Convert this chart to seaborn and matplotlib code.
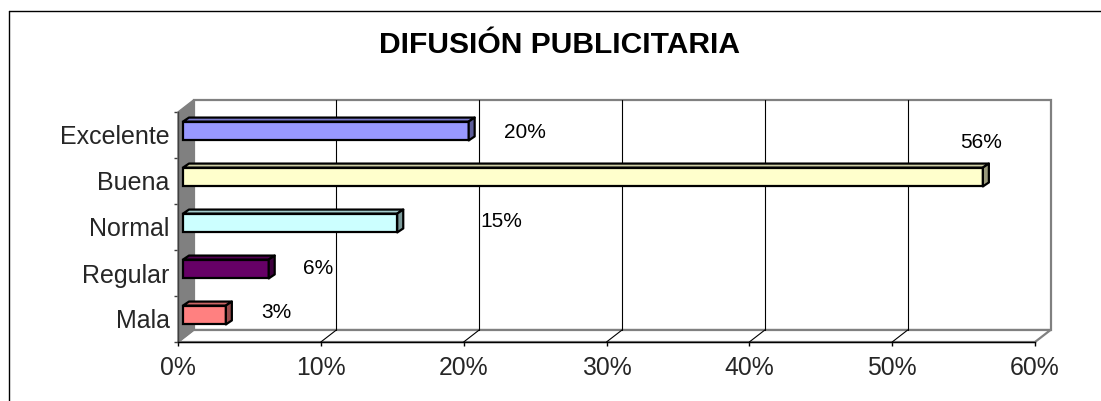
import numpy as np
import pandas as pd
import matplotlib
matplotlib.use("Agg")
import matplotlib.pyplot as plt
import seaborn as sns
from matplotlib.patches import Polygon, Rectangle
from matplotlib.lines import Line2D
from matplotlib.transforms import IdentityTransform, ScaledTranslation
import matplotlib.colors as mcolors

# ---------------- data ----------------
title = "DIFUSIÓN PUBLICITARIA"
categories = ["Excelente", "Buena", "Normal", "Regular", "Mala"]
values = [20, 56, 15, 6, 3]
value_labels = ["20%", "56%", "15%", "6%", "3%"]
x_ticks = [0, 10, 20, 30, 40, 50, 60]
x_tick_labels = ["0%", "10%", "20%", "30%", "40%", "50%", "60%"]
bar_colors = ["#9999FF", "#FFFFCC", "#CCFFFF", "#660066", "#FF8080"]

# ---------------- layout (pixels) ----------------
W, H, DPI = 1101, 401, 100
AX_L, AX_R, AX_T, AX_B = 178, 1035, 112, 342     # front plane of the 3D box
WALL_D = (15.5, 12.0)      # depth of the box (display px, y up)
BAR_F = (5.0, 4.0)         # bar front-face offset
BAR_B = (11.0, 8.0)        # bar back-face offset
# label centre offsets from the bar end on the front plane (px, image y down)
label_offsets = [(61, -2), (3, -38), (109, -5), (54, -5), (56, -7)]

sns.set_theme(style="white")
plt.rcParams["font.family"] = ["Liberation Sans", "DejaVu Sans"]

fig = plt.figure(figsize=(W / DPI, H / DPI), dpi=DPI)
fig.patch.set_facecolor("white")

# outer chart frame (cut by the image on right / bottom)
fig.add_artist(Line2D([8.5 / W, 1.0], [1 - 10.5 / H, 1 - 10.5 / H], color="black", lw=1.0))
fig.add_artist(Line2D([8.5 / W, 8.5 / W], [0.0, 1 - 10.5 / H], color="black", lw=1.0))

ax = fig.add_axes([AX_L / W, (H - AX_B) / H, (AX_R - AX_L) / W, (AX_B - AX_T) / H])
ax.patch.set_visible(False)

df = pd.DataFrame({"categoria": categories, "valor": values})
sns.barplot(data=df, x="valor", y="categoria", hue="categoria", palette=bar_colors,
            orient="h", width=0.41, saturation=1, edgecolor="black", linewidth=1.6,
            legend=False, ax=ax, zorder=3)

ax.set_xlim(x_ticks[0], x_ticks[-1])
ax.set_ylim(len(categories) - 0.5, -0.5)

# ---------- 3D box (walls, floor, gridlines) ----------
idt = IdentityTransform()
(x0, y0), (x1, y1) = ax.transAxes.transform([(0, 0), (1, 1)])
dx, dy = WALL_D
gray = "#808080"
ax.add_patch(Polygon([(x0 + dx, y0 + dy), (x1 + dx, y0 + dy), (x1 + dx, y1 + dy), (x0 + dx, y1 + dy)],
                     closed=True, facecolor="white", edgecolor=gray, lw=1.6,
                     transform=idt, clip_on=False, zorder=0.5))
ax.add_patch(Polygon([(x0, y0), (x1, y0), (x1 + dx, y0 + dy), (x0 + dx, y0 + dy)],
                     closed=True, facecolor="white", edgecolor=gray, lw=1.6,
                     transform=idt, clip_on=False, zorder=0.6))
ax.add_patch(Polygon([(x0, y0), (x0, y1), (x0 + dx, y1 + dy), (x0 + dx, y0 + dy)],
                     closed=True, facecolor=gray, edgecolor=gray, lw=1.0,
                     transform=idt, clip_on=False, zorder=0.7))
for t in x_ticks[1:-1]:
    xd = ax.transData.transform((t, 0))[0]
    ax.add_line(Line2D([xd + dx, xd + dx], [y0 + dy, y1 + dy], color="black", lw=0.8,
                       transform=idt, clip_on=False, zorder=0.65))
    ax.add_line(Line2D([xd, xd + dx], [y0, y0 + dy], color="black", lw=0.8,
                       transform=idt, clip_on=False, zorder=0.65))

# ---------- bars: shift fronts, add top and side faces ----------
shift = ScaledTranslation(BAR_F[0] / DPI, BAR_F[1] / DPI, fig.dpi_scale_trans)
bar_patches = [p for p in ax.patches if isinstance(p, Rectangle) and p.get_width() > 0 and p.get_zorder() >= 3]
for p, c in zip(bar_patches, bar_colors):
    corners = ax.transData.transform([(p.get_x(), p.get_y()),
                                      (p.get_x() + p.get_width(), p.get_y() + p.get_height())])
    L, R = corners[:, 0].min(), corners[:, 0].max()
    B, T = corners[:, 1].min(), corners[:, 1].max()
    p.set_transform(ax.transData + shift)
    p.set_clip_on(False)
    fx, fy = BAR_F
    bx, by = BAR_B
    rgb = np.array(mcolors.to_rgb(c))
    top = Polygon([(L + fx, T + fy), (R + fx, T + fy), (R + bx, T + by), (L + bx, T + by)],
                  closed=True, facecolor=rgb * 0.8, edgecolor="black", lw=1.6,
                  transform=idt, clip_on=False, zorder=3.1, joinstyle="round")
    side = Polygon([(R + fx, B + fy), (R + fx, T + fy), (R + bx, T + by), (R + bx, B + by)],
                   closed=True, facecolor=rgb * 0.6, edgecolor="black", lw=1.6,
                   transform=idt, clip_on=False, zorder=3.1, joinstyle="round")
    ax.add_patch(top)
    ax.add_patch(side)

# ---------- data labels ----------
for i, (v, lab, off) in enumerate(zip(values, value_labels, label_offsets)):
    ax.annotate(lab, xy=(v, i), xycoords="data",
                xytext=(off[0] * 0.72, -off[1] * 0.72), textcoords="offset points",
                ha="center", va="center", fontsize=15, color="black",
                annotation_clip=False, zorder=4)

# ---------- axes styling ----------
for s in ["top", "right"]:
    ax.spines[s].set_visible(False)
ax.spines["bottom"].set_color("black")
ax.spines["bottom"].set_linewidth(1.0)
ax.spines["left"].set_color("#404040")
ax.spines["left"].set_linewidth(1.0)

ax.set_xticks(x_ticks)
ax.set_xticklabels(x_tick_labels, fontsize=17.8)
ax.set_yticks(range(len(categories)))
ax.set_yticklabels(categories, fontsize=18)
ax.set_yticks(np.arange(-0.5, len(categories), 1.0), minor=True)
ax.tick_params(axis="x", which="major", direction="out", length=3, width=1,
               color="black", pad=7, bottom=True)
ax.tick_params(axis="y", which="major", length=0, pad=6, left=True)
ax.tick_params(axis="y", which="minor", direction="out", length=3, width=1,
               color="#404040", left=True)
ax.set_xlabel("")
ax.set_ylabel("")
ax.grid(False)

fig.text(559.5 / W, 1 - 45 / H, title, ha="center", va="center",
         fontsize=21.6, fontweight="bold", color="black")

fig.savefig("out.png", dpi=DPI, facecolor="white")
